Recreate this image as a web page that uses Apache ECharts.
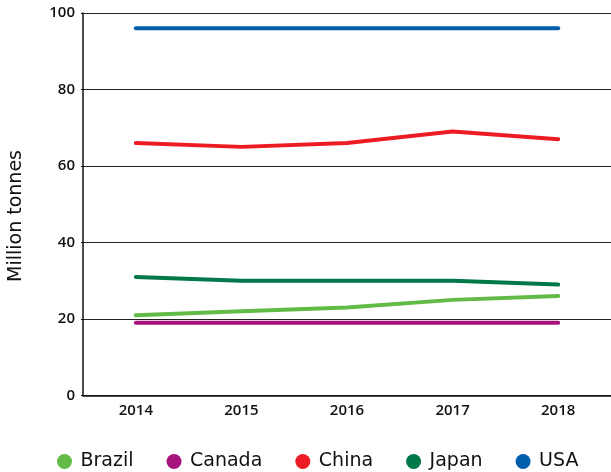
<!DOCTYPE html>
<html><head><meta charset="utf-8">
<script src="https://cdn.jsdelivr.net/npm/echarts@6/dist/echarts.min.js"></script>
<style>html,body{margin:0;padding:0;background:#fff}#c{width:611px;height:472px}</style>
</head><body><div id="c"></div>
<script>
const years = ['2014','2015','2016','2017','2018'];
const brazil = [21, 22, 23, 25, 26];
const canada = [19, 19, 19, 19, 19];
const china = [66, 65, 66, 69, 67];
const japan = [31, 30, 30, 30, 29];
const usa = [96, 96, 96, 96, 96];
const yTicks = [0, 20, 40, 60, 80, 100];

const names = ['Brazil','Canada','China','Japan','USA'];
const colors = ['#62bb46','#a8127d','#ed1c24','#00784a','#005eac'];
const datas = [brazil, canada, china, japan, usa];

const font = '"Open Sans", "Noto Sans", sans-serif';
const font2 = '"DejaVu Sans", sans-serif';
const chart = echarts.init(document.getElementById('c'), null, {renderer:'canvas'});
chart.setOption({
  animation: false,
  grid: {left: 83, top: 13, bottom: 76.5, width: 530, containLabel: false},
  legend: {
    left: 52, top: 447, icon: 'circle', itemWidth: 22, itemHeight: 15, itemGap: 33,
    data: names,
    textStyle: {fontFamily: font2, fontSize: 19, color: '#111'}
  },
  graphic: [{
    type: 'text', x: 16, y: 216, rotation: Math.PI / 2,
    style: {text: 'Million tonnes', fontFamily: font2, fontSize: 19, fill: '#111', align: 'center', verticalAlign: 'middle'}
  }],
  xAxis: {
    type: 'category', data: years, boundaryGap: true,
    axisLine: {lineStyle: {color: '#111', width: 1.5}},
    axisTick: {inside: true, length: 10, lineStyle: {color: '#111'}},
    axisLabel: {fontFamily: font, fontSize: 15, fontWeight: 600, color: '#111', margin: 8}
  },
  yAxis: {
    type: 'value', min: yTicks[0], max: yTicks[yTicks.length-1], interval: 20,
    axisLine: {show: true, lineStyle: {color: '#111', width: 1.5}},
    axisTick: {show: true, length: 2, lineStyle: {color: '#111'}},
    axisLabel: {fontFamily: font, fontSize: 15, fontWeight: 600, color: '#111', margin: 8},
    splitLine: {show: true, lineStyle: {color: '#222', width: 1}}
  },
  series: names.map((n, i) => ({
    name: n, type: 'line', data: datas[i], showSymbol: false, symbol: 'circle',
    itemStyle: {color: colors[i]},
    lineStyle: {color: colors[i], width: 4, cap: 'round', join: 'round'},
    z: 3
  }))
});
</script></body></html>
